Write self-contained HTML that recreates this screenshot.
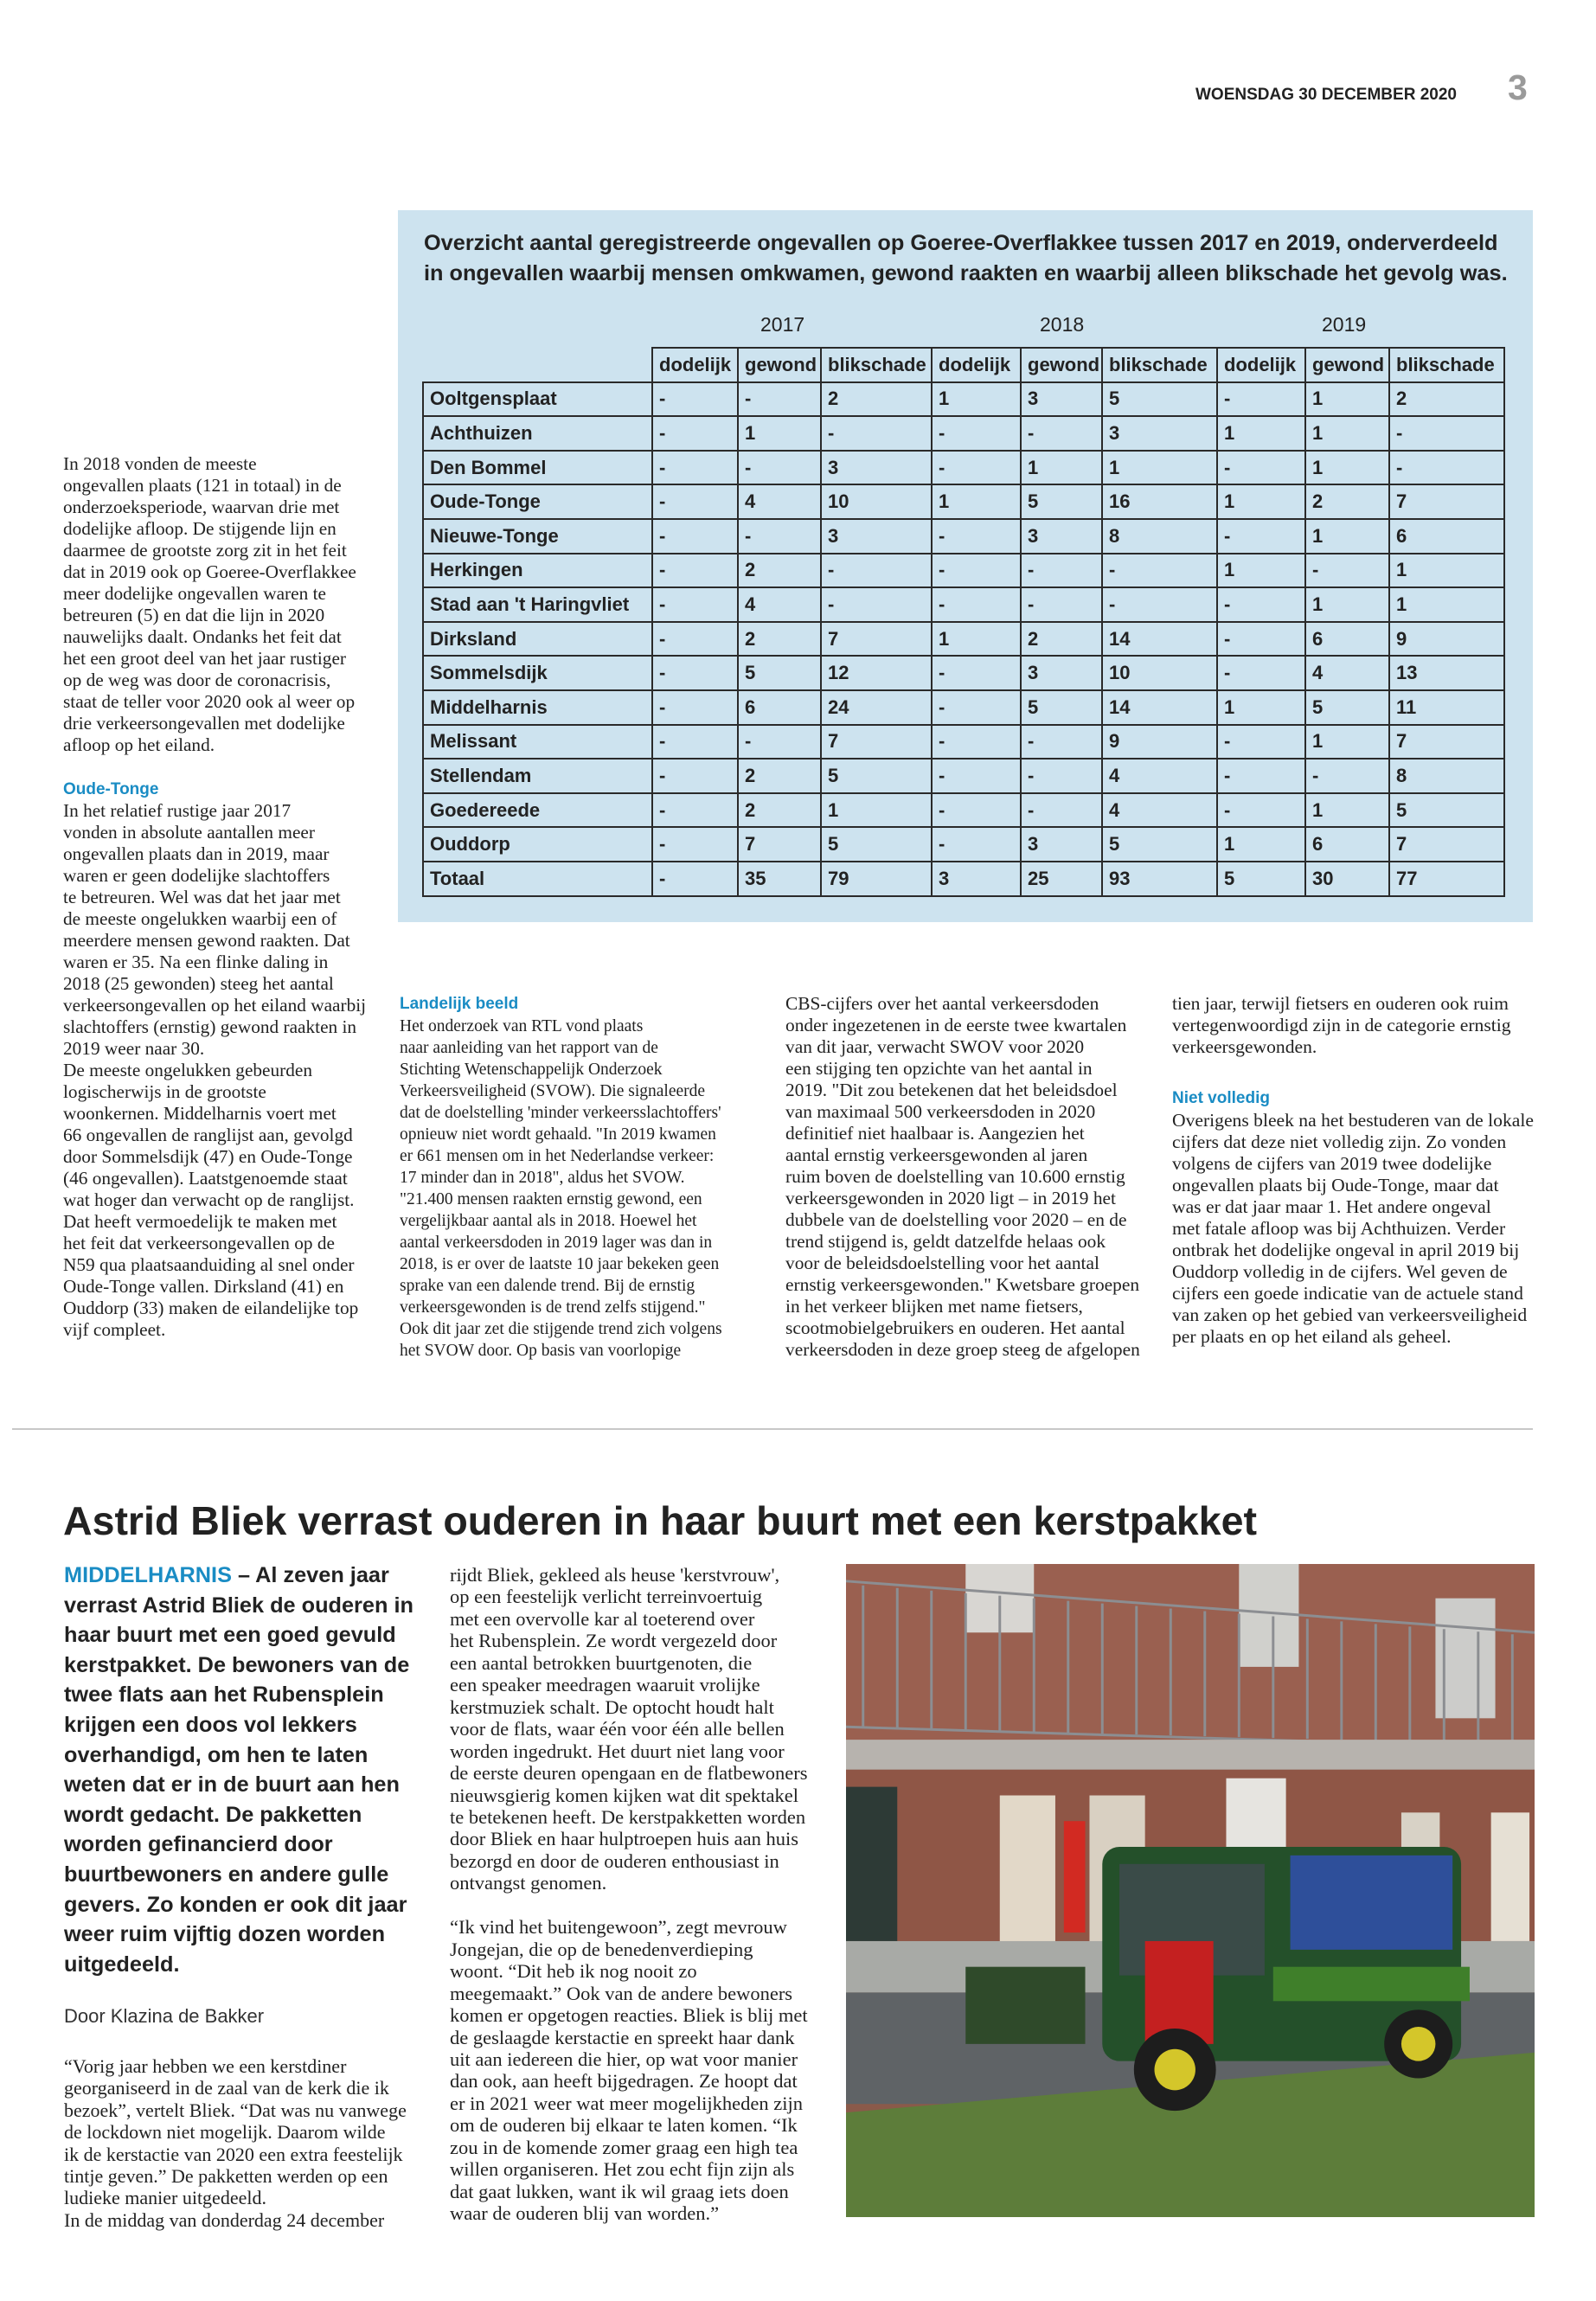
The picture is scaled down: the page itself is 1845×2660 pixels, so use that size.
<!DOCTYPE html>
<html><head><meta charset="utf-8">
<style>
body{margin:0;width:1845px;height:2660px;background:#fff;position:relative;overflow:hidden;font-family:"Liberation Serif",serif;color:#222}
.a{position:absolute;white-space:nowrap}
.s{font-family:"Liberation Serif",serif;font-size:19.5px;line-height:25px}
.h{font-family:"Liberation Sans",sans-serif;font-weight:bold;color:#1a8cc4;font-size:19px;line-height:25px}
table{position:absolute;left:488px;top:401px;border-collapse:collapse;table-layout:fixed;font-family:"Liberation Sans",sans-serif;font-size:22px;font-weight:bold;color:#222}
td{border:2px solid #2a2a2a;height:37.6px;padding:0 0 0 7px;white-space:nowrap;overflow:hidden}
</style></head><body>

<div class="a" style="left:1382px;top:99px;font-family:'Liberation Sans',sans-serif;font-weight:bold;font-size:19px;color:#222">WOENSDAG 30 DECEMBER 2020</div>
<div class="a" style="left:1743px;top:78px;font-family:'Liberation Sans',sans-serif;font-weight:900;font-size:41px;color:#9a9a9a">3</div>

<div class="a" style="left:460px;top:243px;width:1312px;height:823px;background:#cde3ef"></div>
<div class="a" style="left:490px;top:264px;font-family:'Liberation Sans',sans-serif;font-weight:bold;font-size:25.3px;line-height:35px;color:#222">Overzicht aantal geregistreerde ongevallen op Goeree-Overflakkee tussen 2017 en 2019, onderverdeeld<br>in ongevallen waarbij mensen omkwamen, gewond raakten en waarbij alleen blikschade het gevolg was.</div>
<div class="a" style="left:879px;top:362px;font-family:'Liberation Sans',sans-serif;font-size:23px">2017</div>
<div class="a" style="left:1202px;top:362px;font-family:'Liberation Sans',sans-serif;font-size:23px">2018</div>
<div class="a" style="left:1528px;top:362px;font-family:'Liberation Sans',sans-serif;font-size:23px">2019</div>

<table>
<colgroup><col style="width:265px"><col style="width:99px"><col style="width:96px"><col style="width:128px"><col style="width:103px"><col style="width:94px"><col style="width:133px"><col style="width:102px"><col style="width:97px"><col style="width:133px"></colgroup>
<tr><td style="border:none;border-bottom:2px solid #2a2a2a;height:36px"></td><td>dodelijk</td><td>gewond</td><td>blikschade</td><td>dodelijk</td><td>gewond</td><td>blikschade</td><td>dodelijk</td><td>gewond</td><td>blikschade</td></tr>
<tr><td>Ooltgensplaat</td><td>-</td><td>-</td><td>2</td><td>1</td><td>3</td><td>5</td><td>-</td><td>1</td><td>2</td></tr>
<tr><td>Achthuizen</td><td>-</td><td>1</td><td>-</td><td>-</td><td>-</td><td>3</td><td>1</td><td>1</td><td>-</td></tr>
<tr><td>Den Bommel</td><td>-</td><td>-</td><td>3</td><td>-</td><td>1</td><td>1</td><td>-</td><td>1</td><td>-</td></tr>
<tr><td>Oude-Tonge</td><td>-</td><td>4</td><td>10</td><td>1</td><td>5</td><td>16</td><td>1</td><td>2</td><td>7</td></tr>
<tr><td>Nieuwe-Tonge</td><td>-</td><td>-</td><td>3</td><td>-</td><td>3</td><td>8</td><td>-</td><td>1</td><td>6</td></tr>
<tr><td>Herkingen</td><td>-</td><td>2</td><td>-</td><td>-</td><td>-</td><td>-</td><td>1</td><td>-</td><td>1</td></tr>
<tr><td>Stad aan 't Haringvliet</td><td>-</td><td>4</td><td>-</td><td>-</td><td>-</td><td>-</td><td>-</td><td>1</td><td>1</td></tr>
<tr><td>Dirksland</td><td>-</td><td>2</td><td>7</td><td>1</td><td>2</td><td>14</td><td>-</td><td>6</td><td>9</td></tr>
<tr><td>Sommelsdijk</td><td>-</td><td>5</td><td>12</td><td>-</td><td>3</td><td>10</td><td>-</td><td>4</td><td>13</td></tr>
<tr><td>Middelharnis</td><td>-</td><td>6</td><td>24</td><td>-</td><td>5</td><td>14</td><td>1</td><td>5</td><td>11</td></tr>
<tr><td>Melissant</td><td>-</td><td>-</td><td>7</td><td>-</td><td>-</td><td>9</td><td>-</td><td>1</td><td>7</td></tr>
<tr><td>Stellendam</td><td>-</td><td>2</td><td>5</td><td>-</td><td>-</td><td>4</td><td>-</td><td>-</td><td>8</td></tr>
<tr><td>Goedereede</td><td>-</td><td>2</td><td>1</td><td>-</td><td>-</td><td>4</td><td>-</td><td>1</td><td>5</td></tr>
<tr><td>Ouddorp</td><td>-</td><td>7</td><td>5</td><td>-</td><td>3</td><td>5</td><td>1</td><td>6</td><td>7</td></tr>
<tr><td>Totaal</td><td>-</td><td>35</td><td>79</td><td>3</td><td>25</td><td>93</td><td>5</td><td>30</td><td>77</td></tr>
</table>

<div class="a s" style="left:73px;top:524px;font-size:21.3px">In 2018 vonden de meeste<br>ongevallen plaats (121 in totaal) in de<br>onderzoeksperiode, waarvan drie met<br>dodelijke afloop. De stijgende lijn en<br>daarmee de grootste zorg zit in het feit<br>dat in 2019 ook op Goeree-Overflakkee<br>meer dodelijke ongevallen waren te<br>betreuren (5) en dat die lijn in 2020<br>nauwelijks daalt. Ondanks het feit dat<br>het een groot deel van het jaar rustiger<br>op de weg was door de coronacrisis,<br>staat de teller voor 2020 ook al weer op<br>drie verkeersongevallen met dodelijke<br>afloop op het eiland.</div>
<div class="a h" style="left:73px;top:900px">Oude-Tonge</div>
<div class="a s" style="left:73px;top:925px;font-size:21.3px">In het relatief rustige jaar 2017<br>vonden in absolute aantallen meer<br>ongevallen plaats dan in 2019, maar<br>waren er geen dodelijke slachtoffers<br>te betreuren. Wel was dat het jaar met<br>de meeste ongelukken waarbij een of<br>meerdere mensen gewond raakten. Dat<br>waren er 35. Na een flinke daling in<br>2018 (25 gewonden) steeg het aantal<br>verkeersongevallen op het eiland waarbij<br>slachtoffers (ernstig) gewond raakten in<br>2019 weer naar 30.<br>De meeste ongelukken gebeurden<br>logischerwijs in de grootste<br>woonkernen. Middelharnis voert met<br>66 ongevallen de ranglijst aan, gevolgd<br>door Sommelsdijk (47) en Oude-Tonge<br>(46 ongevallen). Laatstgenoemde staat<br>wat hoger dan verwacht op de ranglijst.<br>Dat heeft vermoedelijk te maken met<br>het feit dat verkeersongevallen op de<br>N59 qua plaatsaanduiding al snel onder<br>Oude-Tonge vallen. Dirksland (41) en<br>Ouddorp (33) maken de eilandelijke top<br>vijf compleet.</div>

<div class="a h" style="left:462px;top:1148px">Landelijk beeld</div>
<div class="a s" style="left:462px;top:1174px">Het onderzoek van RTL vond plaats<br>naar aanleiding van het rapport van de<br>Stichting Wetenschappelijk Onderzoek<br>Verkeersveiligheid (SVOW). Die signaleerde<br>dat de doelstelling 'minder verkeersslachtoffers'<br>opnieuw niet wordt gehaald. "In 2019 kwamen<br>er 661 mensen om in het Nederlandse verkeer:<br>17 minder dan in 2018", aldus het SVOW.<br>"21.400 mensen raakten ernstig gewond, een<br>vergelijkbaar aantal als in 2018. Hoewel het<br>aantal verkeersdoden in 2019 lager was dan in<br>2018, is er over de laatste 10 jaar bekeken geen<br>sprake van een dalende trend. Bij de ernstig<br>verkeersgewonden is de trend zelfs stijgend."<br>Ook dit jaar zet die stijgende trend zich volgens<br>het SVOW door. Op basis van voorlopige</div>
<div class="a s" style="left:908px;top:1148px;font-size:21.4px">CBS-cijfers over het aantal verkeersdoden<br>onder ingezetenen in de eerste twee kwartalen<br>van dit jaar, verwacht SWOV voor 2020<br>een stijging ten opzichte van het aantal in<br>2019. "Dit zou betekenen dat het beleidsdoel<br>van maximaal 500 verkeersdoden in 2020<br>definitief niet haalbaar is. Aangezien het<br>aantal ernstig verkeersgewonden al jaren<br>ruim boven de doelstelling van 10.600 ernstig<br>verkeersgewonden in 2020 ligt – in 2019 het<br>dubbele van de doelstelling voor 2020 – en de<br>trend stijgend is, geldt datzelfde helaas ook<br>voor de beleidsdoelstelling voor het aantal<br>ernstig verkeersgewonden." Kwetsbare groepen<br>in het verkeer blijken met name fietsers,<br>scootmobielgebruikers en ouderen. Het aantal<br>verkeersdoden in deze groep steeg de afgelopen</div>
<div class="a s" style="left:1355px;top:1148px;font-size:21.6px">tien jaar, terwijl fietsers en ouderen ook ruim<br>vertegenwoordigd zijn in de categorie ernstig<br>verkeersgewonden.</div>
<div class="a h" style="left:1355px;top:1257px">Niet volledig</div>
<div class="a s" style="left:1355px;top:1283px;font-size:21.6px">Overigens bleek na het bestuderen van de lokale<br>cijfers dat deze niet volledig zijn. Zo vonden<br>volgens de cijfers van 2019 twee dodelijke<br>ongevallen plaats bij Oude-Tonge, maar dat<br>was er dat jaar maar 1. Het andere ongeval<br>met fatale afloop was bij Achthuizen. Verder<br>ontbrak het dodelijke ongeval in april 2019 bij<br>Ouddorp volledig in de cijfers. Wel geven de<br>cijfers een goede indicatie van de actuele stand<br>van zaken op het gebied van verkeersveiligheid<br>per plaats en op het eiland als geheel.</div>

<div class="a" style="left:14px;top:1651px;width:1758px;height:2px;background:#c8c8c8"></div>

<div class="a" style="left:73px;top:1728px;font-family:'Liberation Sans',sans-serif;font-weight:bold;font-size:46.5px;line-height:60px;color:#222">Astrid Bliek verrast ouderen in haar buurt met een kerstpakket</div>

<div class="a" style="left:74px;top:1804px;font-family:'Liberation Sans',sans-serif;font-weight:bold;font-size:25.3px;line-height:34.6px;color:#222"><span style="color:#1a8cc4">MIDDELHARNIS</span> – Al zeven jaar<br>verrast Astrid Bliek de ouderen in<br>haar buurt met een goed gevuld<br>kerstpakket. De bewoners van de<br>twee flats aan het Rubensplein<br>krijgen een doos vol lekkers<br>overhandigd, om hen te laten<br>weten dat er in de buurt aan hen<br>wordt gedacht. De pakketten<br>worden gefinancierd door<br>buurtbewoners en andere gulle<br>gevers. Zo konden er ook dit jaar<br>weer ruim vijftig dozen worden<br>uitgedeeld.</div>

<div class="a" style="left:74px;top:2318px;font-family:'Liberation Sans',sans-serif;font-size:22px;color:#333">Door Klazina de Bakker</div>
<div class="a s" style="left:74px;top:2376px;line-height:25.4px;font-size:22px">“Vorig jaar hebben we een kerstdiner<br>georganiseerd in de zaal van de kerk die ik<br>bezoek”, vertelt Bliek. “Dat was nu vanwege<br>de lockdown niet mogelijk. Daarom wilde<br>ik de kerstactie van 2020 een extra feestelijk<br>tintje geven.” De pakketten werden op een<br>ludieke manier uitgedeeld.<br>In de middag van donderdag 24 december</div>
<div class="a s" style="left:520px;top:1808px;line-height:25.45px;font-size:22.5px">rijdt Bliek, gekleed als heuse 'kerstvrouw',<br>op een feestelijk verlicht terreinvoertuig<br>met een overvolle kar al toeterend over<br>het Rubensplein. Ze wordt vergezeld door<br>een aantal betrokken buurtgenoten, die<br>een speaker meedragen waaruit vrolijke<br>kerstmuziek schalt. De optocht houdt halt<br>voor de flats, waar één voor één alle bellen<br>worden ingedrukt. Het duurt niet lang voor<br>de eerste deuren opengaan en de flatbewoners<br>nieuwsgierig komen kijken wat dit spektakel<br>te betekenen heeft. De kerstpakketten worden<br>door Bliek en haar hulptroepen huis aan huis<br>bezorgd en door de ouderen enthousiast in<br>ontvangst genomen.<br><br>“Ik vind het buitengewoon”, zegt mevrouw<br>Jongejan, die op de benedenverdieping<br>woont. “Dit heb ik nog nooit zo<br>meegemaakt.” Ook van de andere bewoners<br>komen er opgetogen reacties. Bliek is blij met<br>de geslaagde kerstactie en spreekt haar dank<br>uit aan iedereen die hier, op wat voor manier<br>dan ook, aan heeft bijgedragen. Ze hoopt dat<br>er in 2021 weer wat meer mogelijkheden zijn<br>om de ouderen bij elkaar te laten komen. “Ik<br>zou in de komende zomer graag een high tea<br>willen organiseren. Het zou echt fijn zijn als<br>dat gaat lukken, want ik wil graag iets doen<br>waar de ouderen blij van worden.”</div>

<svg class="a" style="left:978px;top:1808px" width="796" height="755" viewBox="0 0 806 762" preserveAspectRatio="none">
<rect width="806" height="762" fill="#8a5a4a"/>
<rect x="0" y="0" width="806" height="230" fill="#9a6050"/>
<rect x="140" y="0" width="80" height="80" fill="#d8d6d2"/>
<rect x="460" y="0" width="70" height="120" fill="#d0d0cc"/>
<rect x="690" y="40" width="70" height="140" fill="#ccccca"/>
<g stroke="#8c8e92" stroke-width="3">
<line x1="0" y1="20" x2="806" y2="80"/><line x1="0" y1="190" x2="806" y2="215"/>
<path d="M20 25V190M60 28V192M100 31V193M140 34V194M180 37V195M220 40V196M260 43V197M300 46V198M340 49V199M380 52V200M420 55V201M460 58V202M500 61V203M540 64V204M580 67V205M620 70V206M660 73V207M700 76V208M740 79V209M780 82V210"/>
</g>
<rect x="0" y="205" width="806" height="35" fill="#b7b3ae"/>
<rect x="0" y="240" width="806" height="205" fill="#8f5646"/>
<rect x="0" y="260" width="60" height="180" fill="#2d3a36"/>
<rect x="180" y="270" width="65" height="175" fill="#e2d8c8"/>
<rect x="285" y="270" width="65" height="175" fill="#d9d0c2"/>
<rect x="445" y="250" width="70" height="130" fill="#e6e4e0"/>
<rect x="650" y="290" width="45" height="150" fill="#d8d2c6"/>
<rect x="755" y="290" width="45" height="150" fill="#e6e0d4"/>
<rect x="255" y="300" width="25" height="130" fill="#d22a22"/>
<rect x="0" y="440" width="806" height="60" fill="#a8aaa6"/>
<rect x="0" y="500" width="806" height="130" fill="#5f6366"/>
<polygon points="0,640 806,570 806,762 0,762" fill="#5d7d3a"/>
<rect x="140" y="470" width="140" height="90" fill="#2f4a2a"/>
<rect x="300" y="330" width="420" height="250" rx="20" fill="#24502a"/>
<rect x="320" y="350" width="170" height="130" fill="#3a4b48"/>
<rect x="520" y="340" width="190" height="110" fill="#2e4f9a"/>
<rect x="350" y="440" width="80" height="120" fill="#c42020"/>
<rect x="500" y="470" width="230" height="40" fill="#3f7f2a"/>
<circle cx="385" cy="590" r="48" fill="#1d1d1d"/><circle cx="385" cy="590" r="24" fill="#d4c62a"/>
<circle cx="670" cy="560" r="40" fill="#1d1d1d"/><circle cx="670" cy="560" r="20" fill="#d4c62a"/>
</svg>
</body></html>
